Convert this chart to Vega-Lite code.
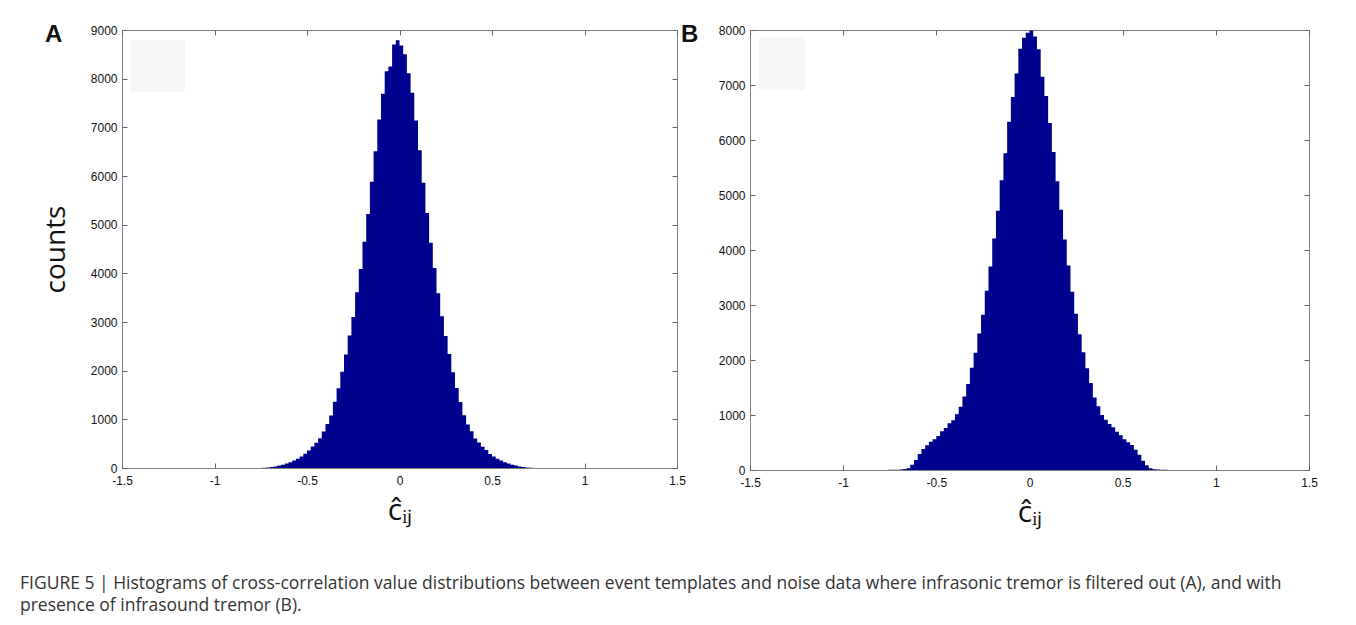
{
  "$schema": "https://vega.github.io/schema/vega-lite/v6.json",
  "background": "white",
  "padding": {"left": 20, "top": 22, "right": 10, "bottom": 10},
  "bounds": "flush",
  "spacing": 73,
  "title": {
    "text": ["FIGURE 5 | Histograms of cross-correlation value distributions between event templates and noise data where infrasonic tremor is filtered out (A), and with", "presence of infrasound tremor (B)."],
    "orient": "bottom",
    "anchor": "start",
    "frame": "group",
    "dx": -102,
    "offset": 47,
    "font": "Open Sans",
    "fontSize": 17.5,
    "fontWeight": "normal",
    "color": "#333333",
    "lineHeight": 22
  },
  "config": {
    "view": {"stroke": "#808080", "strokeWidth": 1},
    "axis": {
      "domain": false,
      "grid": false,
      "tickSize": -5,
      "tickColor": "#666666",
      "labelFont": "Liberation Sans",
      "labelFontSize": 12,
      "labelColor": "#111111",
      "labelPadding": 12,
      "labelFlush": false,
      "labelOverlap": false,
      "titleFont": "Open Sans",
      "titleFontWeight": "normal",
      "titleColor": "#111111",
      "titleFontSize": 28
    }
  },
  "hconcat": [
    {
      "width": 555,
      "height": 438,
      "title": {"text": "A", "anchor": "start", "frame": "group", "dx": -77, "dy": 23, "offset": 0, "fontSize": 24, "font": "Liberation Sans", "fontWeight": "bold", "color": "#111111"},
      "layer": [
        {
          "data": {"values": [
            {"c": -0.75, "n": 1}, {"c": -0.73, "n": 4}, {"c": -0.71, "n": 9}, {"c": -0.69, "n": 19}, {"c": -0.67, "n": 33},
            {"c": -0.65, "n": 50}, {"c": -0.63, "n": 67}, {"c": -0.61, "n": 90}, {"c": -0.59, "n": 117}, {"c": -0.57, "n": 152},
            {"c": -0.55, "n": 188}, {"c": -0.53, "n": 236}, {"c": -0.51, "n": 292}, {"c": -0.49, "n": 362}, {"c": -0.47, "n": 442},
            {"c": -0.45, "n": 518}, {"c": -0.43, "n": 612}, {"c": -0.41, "n": 748}, {"c": -0.39, "n": 902}, {"c": -0.37, "n": 1078},
            {"c": -0.35, "n": 1362}, {"c": -0.33, "n": 1638}, {"c": -0.31, "n": 1980}, {"c": -0.29, "n": 2330}, {"c": -0.27, "n": 2725},
            {"c": -0.25, "n": 3105}, {"c": -0.23, "n": 3610}, {"c": -0.21, "n": 4090}, {"c": -0.19, "n": 4650}, {"c": -0.17, "n": 5220},
            {"c": -0.15, "n": 5880}, {"c": -0.13, "n": 6510}, {"c": -0.11, "n": 7160}, {"c": -0.09, "n": 7690}, {"c": -0.07, "n": 8150},
            {"c": -0.05, "n": 8250}, {"c": -0.03, "n": 8700}, {"c": -0.01, "n": 8790}, {"c": 0.01, "n": 8680}, {"c": 0.03, "n": 8500},
            {"c": 0.05, "n": 8110}, {"c": 0.07, "n": 7710}, {"c": 0.09, "n": 7140}, {"c": 0.11, "n": 6530}, {"c": 0.13, "n": 5860},
            {"c": 0.15, "n": 5240}, {"c": 0.17, "n": 4630}, {"c": 0.19, "n": 4110}, {"c": 0.21, "n": 3590}, {"c": 0.23, "n": 3120},
            {"c": 0.25, "n": 2710}, {"c": 0.27, "n": 2340}, {"c": 0.29, "n": 1970}, {"c": 0.31, "n": 1645}, {"c": 0.33, "n": 1355},
            {"c": 0.35, "n": 1085}, {"c": 0.37, "n": 895}, {"c": 0.39, "n": 755}, {"c": 0.41, "n": 605}, {"c": 0.43, "n": 525},
            {"c": 0.45, "n": 436}, {"c": 0.47, "n": 368}, {"c": 0.49, "n": 288}, {"c": 0.51, "n": 238}, {"c": 0.53, "n": 188},
            {"c": 0.55, "n": 152}, {"c": 0.57, "n": 116}, {"c": 0.59, "n": 91}, {"c": 0.61, "n": 67}, {"c": 0.63, "n": 51},
            {"c": 0.65, "n": 33}, {"c": 0.67, "n": 21}, {"c": 0.69, "n": 10}, {"c": 0.71, "n": 5}, {"c": 0.73, "n": 2}
          ]},
          "mark": {"type": "area", "interpolate": "step", "color": "#00008f", "clip": true},
          "encoding": {
            "x": {"field": "c", "type": "quantitative", "scale": {"domain": [-1.5, 1.5], "nice": false},
                  "axis": {"orient": "bottom", "values": [-1.5, -1, -0.5, 0, 0.5, 1, 1.5], "format": ".1~f", "labelExpr": "replace(datum.label, '−', '-')", "title": "ĉᵢⱼ", "titlePadding": 9, "titleFontSize": 30}},
            "y": {"field": "n", "type": "quantitative", "scale": {"domain": [0, 9000], "nice": false},
                  "axis": {"orient": "left", "values": [0, 1000, 2000, 3000, 4000, 5000, 6000, 7000, 8000, 9000], "format": "d", "labelPadding": 10, "title": "counts", "titlePadding": 20}}
          }
        },
        {
          "data": {"values": [{"x0": -1.457, "x1": -1.159, "y0": 7727, "y1": 8795}]},
          "mark": {"type": "rect", "color": "#f7f7f7"},
          "encoding": {
            "x": {"field": "x0", "type": "quantitative", "axis": {"orient": "top", "labels": false, "title": null, "values": [-1.5, -1, -0.5, 0, 0.5, 1, 1.5]}},
            "x2": {"field": "x1"},
            "y": {"field": "y0", "type": "quantitative", "axis": {"orient": "right", "labels": false, "title": null, "values": [0, 1000, 2000, 3000, 4000, 5000, 6000, 7000, 8000, 9000]}},
            "y2": {"field": "y1"}
          }
        }
      ],
      "resolve": {"axis": {"x": "independent", "y": "independent"}}
    },
    {
      "width": 559,
      "height": 440,
      "title": {"text": "B", "anchor": "start", "frame": "group", "dx": -69, "dy": 23, "offset": 0, "fontSize": 24, "font": "Liberation Sans", "fontWeight": "bold", "color": "#111111"},
      "layer": [
        {
          "data": {"values": [
            {"c": -0.79, "n": 1}, {"c": -0.77, "n": 2}, {"c": -0.75, "n": 3}, {"c": -0.73, "n": 4}, {"c": -0.71, "n": 6},
            {"c": -0.69, "n": 9}, {"c": -0.67, "n": 16}, {"c": -0.65, "n": 32}, {"c": -0.63, "n": 95}, {"c": -0.61, "n": 180},
            {"c": -0.59, "n": 290}, {"c": -0.57, "n": 380}, {"c": -0.55, "n": 450}, {"c": -0.53, "n": 515}, {"c": -0.51, "n": 560},
            {"c": -0.49, "n": 620}, {"c": -0.47, "n": 705}, {"c": -0.45, "n": 765}, {"c": -0.43, "n": 850}, {"c": -0.41, "n": 905},
            {"c": -0.39, "n": 1015}, {"c": -0.37, "n": 1150}, {"c": -0.35, "n": 1335}, {"c": -0.33, "n": 1565}, {"c": -0.31, "n": 1860},
            {"c": -0.29, "n": 2130}, {"c": -0.27, "n": 2480}, {"c": -0.25, "n": 2825}, {"c": -0.23, "n": 3260}, {"c": -0.21, "n": 3700},
            {"c": -0.19, "n": 4210}, {"c": -0.17, "n": 4715}, {"c": -0.15, "n": 5270}, {"c": -0.13, "n": 5760}, {"c": -0.11, "n": 6330},
            {"c": -0.09, "n": 6780}, {"c": -0.07, "n": 7210}, {"c": -0.05, "n": 7660}, {"c": -0.03, "n": 7860}, {"c": -0.01, "n": 7950},
            {"c": 0.01, "n": 7990}, {"c": 0.03, "n": 7880}, {"c": 0.05, "n": 7650}, {"c": 0.07, "n": 7150}, {"c": 0.09, "n": 6800},
            {"c": 0.11, "n": 6310}, {"c": 0.13, "n": 5780}, {"c": 0.15, "n": 5250}, {"c": 0.17, "n": 4730}, {"c": 0.19, "n": 4190},
            {"c": 0.21, "n": 3720}, {"c": 0.23, "n": 3240}, {"c": 0.25, "n": 2840}, {"c": 0.27, "n": 2470}, {"c": 0.29, "n": 2140},
            {"c": 0.31, "n": 1850}, {"c": 0.33, "n": 1580}, {"c": 0.35, "n": 1320}, {"c": 0.37, "n": 1160}, {"c": 0.39, "n": 1000},
            {"c": 0.41, "n": 915}, {"c": 0.43, "n": 835}, {"c": 0.45, "n": 778}, {"c": 0.47, "n": 695}, {"c": 0.49, "n": 632},
            {"c": 0.51, "n": 558}, {"c": 0.53, "n": 505}, {"c": 0.55, "n": 455}, {"c": 0.57, "n": 370}, {"c": 0.59, "n": 278},
            {"c": 0.61, "n": 170}, {"c": 0.63, "n": 88}, {"c": 0.65, "n": 30}, {"c": 0.67, "n": 14}, {"c": 0.69, "n": 8},
            {"c": 0.71, "n": 5}, {"c": 0.73, "n": 4}, {"c": 0.75, "n": 2}, {"c": 0.77, "n": 1}
          ]},
          "mark": {"type": "area", "interpolate": "step", "color": "#00008f", "clip": true},
          "encoding": {
            "x": {"field": "c", "type": "quantitative", "scale": {"domain": [-1.5, 1.5], "nice": false},
                  "axis": {"orient": "bottom", "values": [-1.5, -1, -0.5, 0, 0.5, 1, 1.5], "format": ".1~f", "labelExpr": "replace(datum.label, '−', '-')", "title": "ĉᵢⱼ", "titlePadding": 9, "titleFontSize": 30}},
            "y": {"field": "n", "type": "quantitative", "scale": {"domain": [0, 8000], "nice": false},
                  "axis": {"orient": "left", "values": [0, 1000, 2000, 3000, 4000, 5000, 6000, 7000, 8000], "format": "d", "labelPadding": 10, "title": null}}
          }
        },
        {
          "data": {"values": [{"x0": -1.452, "x1": -1.205, "y0": 6908, "y1": 7872}]},
          "mark": {"type": "rect", "color": "#f7f7f7"},
          "encoding": {
            "x": {"field": "x0", "type": "quantitative", "axis": {"orient": "top", "labels": false, "title": null, "values": [-1.5, -1, -0.5, 0, 0.5, 1, 1.5]}},
            "x2": {"field": "x1"},
            "y": {"field": "y0", "type": "quantitative", "axis": {"orient": "right", "labels": false, "title": null, "values": [0, 1000, 2000, 3000, 4000, 5000, 6000, 7000, 8000]}},
            "y2": {"field": "y1"}
          }
        }
      ],
      "resolve": {"axis": {"x": "independent", "y": "independent"}}
    }
  ]
}
